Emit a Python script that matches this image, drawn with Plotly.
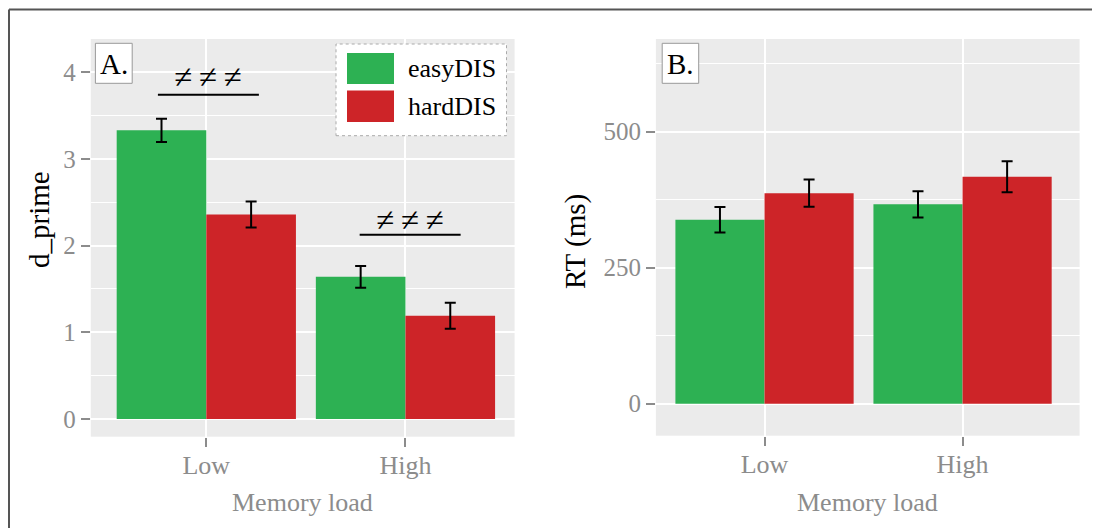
import plotly.graph_objects as go

# ---------------- data ----------------
load_levels = ["Low", "High"]
load_pos = [1, 2]
conditions = ["easyDIS", "hardDIS"]
colors = ["#2db153", "#cd2428"]

dprime_easy = [3.33, 1.64]
dprime_easy_err = [0.135, 0.125]
dprime_hard = [2.36, 1.19]
dprime_hard_err = [0.15, 0.15]

rt_easy = [338, 366.5]
rt_easy_err = [23.5, 24]
rt_hard = [387, 417]
rt_hard_err = [25, 28.5]

dprime_ticks = [0, 1, 2, 3, 4]
rt_ticks = [0, 250, 500]

# significance markers on panel A: (x0, x1, line y, text y)
sig_marks = [(0.757, 1.264, 3.74, 3.94), (1.77, 2.277, 2.125, 2.30)]
sig_text = "≠\u2009≠\u2009≠"

# the page body adds an 8 px margin, so the figure is drawn 8 px in from the corner
OFF = 8
W, H = 1100 - OFF, 528 - OFF
FONT = "Liberation Serif"
GREY = "#8c8c8c"


def px(x):
    return (x - OFF) / W


def py(y):
    return 1 - (y - OFF) / H


fig = go.Figure()

panels = [
    ("x", "y", [dprime_easy, dprime_hard], [dprime_easy_err, dprime_hard_err]),
    ("x2", "y2", [rt_easy, rt_hard], [rt_easy_err, rt_hard_err]),
]
for xa, ya, vals, errs in panels:
    for i, cond in enumerate(conditions):
        fig.add_trace(go.Bar(
            x=load_pos, y=vals[i], name=cond, xaxis=xa, yaxis=ya,
            offsetgroup=str(i), marker=dict(color=colors[i], line=dict(width=0)),
            error_y=dict(type="data", array=errs[i], color="black", thickness=2, width=5.5),
            showlegend=False,
        ))

axis_common = dict(
    showgrid=True, gridcolor="white", gridwidth=1.6, zeroline=False,
    ticks="outside", ticklen=9, tickwidth=1.5, tickcolor="#8c8c8c", showline=False,
)
xtick = dict(tickfont=dict(family=FONT, size=26, color=GREY), ticklabelstandoff=-4)
ytick = dict(tickfont=dict(family=FONT, size=25, color=GREY))

fig.update_layout(
    width=W, height=H, margin=dict(l=0, r=0, t=0, b=0),
    paper_bgcolor="white", plot_bgcolor="#ebebeb",
    barmode="group", bargap=0.1, bargroupgap=0,
    xaxis=dict(domain=[px(90.8), px(514.6)], range=[0.42, 2.548], anchor="y",
               tickvals=load_pos, ticktext=load_levels, **axis_common, **xtick),
    yaxis=dict(domain=[py(436.7), py(39)], range=[-0.204, 4.384], anchor="x",
               tickvals=dprime_ticks,
               minor=dict(dtick=0.5, tick0=0, showgrid=True, gridcolor="white", gridwidth=0.8, ticks=""),
               **axis_common, **ytick),
    xaxis2=dict(domain=[px(655.9), px(1079.6)], range=[0.4515, 2.591], anchor="y2",
                tickvals=load_pos, ticktext=load_levels, **axis_common, **xtick),
    yaxis2=dict(domain=[py(435.7), py(39)], range=[-58.8, 670.4], anchor="x2",
                tickvals=rt_ticks,
                minor=dict(dtick=125, tick0=0, showgrid=True, gridcolor="white", gridwidth=0.8, ticks=""),
                **axis_common, **ytick),
)

shapes = []
annotations = []

# outer frame (left and top)
shapes.append(dict(type="line", xref="paper", yref="paper", x0=px(9), x1=px(9), y0=0, y1=py(9.5),
                   line=dict(color="#555555", width=2)))
shapes.append(dict(type="line", xref="paper", yref="paper", x0=px(9), x1=1, y0=py(9.5), y1=py(9.5),
                   line=dict(color="#555555", width=2)))

# panel labels
for label, (x0, x1, y0, y1) in [("A.", (95.4, 132.2, 43.3, 83.3)), ("B.", (662.2, 698.7, 43.3, 83.3))]:
    shapes.append(dict(type="rect", xref="paper", yref="paper", x0=px(x0), x1=px(x1), y0=py(y1), y1=py(y0),
                       fillcolor="white", line=dict(color="#999999", width=1)))
    annotations.append(dict(xref="paper", yref="paper", x=px((x0 + x1) / 2), y=py((y0 + y1) / 2 + 1),
                            text=label, showarrow=False, xanchor="center", yanchor="middle",
                            font=dict(family=FONT, size=29, color="black")))

# significance markers
for x0, x1, yl, yt in sig_marks:
    shapes.append(dict(type="line", xref="x", yref="y", x0=x0, x1=x1, y0=yl, y1=yl,
                       line=dict(color="black", width=2)))
    annotations.append(dict(xref="x", yref="y", x=(x0 + x1) / 2, y=yt, text=sig_text, showarrow=False,
                            xanchor="center", yanchor="middle",
                            font=dict(family=FONT, size=33, color="black")))

# custom legend
shapes.append(dict(type="rect", xref="paper", yref="paper", x0=px(336), x1=px(506.5), y0=py(135.7), y1=py(44),
                   fillcolor="white", line=dict(color="#aaaaaa", width=1, dash="dot")))
key_rows = [(53, 84), (90.5, 122)]
for i, cond in enumerate(conditions):
    y0, y1 = key_rows[i]
    shapes.append(dict(type="rect", xref="paper", yref="paper", x0=px(347), x1=px(394), y0=py(y1), y1=py(y0),
                       fillcolor=colors[i], line=dict(width=0)))
    annotations.append(dict(xref="paper", yref="paper", x=px(406), y=py((y0 + y1) / 2), text=cond,
                            showarrow=False, xanchor="left", yanchor="middle",
                            font=dict(family=FONT, size=26, color="black")))

# axis titles
annotations.append(dict(xref="paper", yref="paper", x=px(39), y=py(220), text="d_prime", textangle=-90,
                        showarrow=False, xanchor="center", yanchor="middle",
                        font=dict(family=FONT, size=29, color="black")))
annotations.append(dict(xref="paper", yref="paper", x=px(576), y=py(242), text="RT (ms)", textangle=-90,
                        showarrow=False, xanchor="center", yanchor="middle",
                        font=dict(family=FONT, size=29, color="black")))
for xc in [302.7, 867.8]:
    annotations.append(dict(xref="paper", yref="paper", x=px(xc), y=py(502.3), text="Memory load",
                            showarrow=False, xanchor="center", yanchor="middle",
                            font=dict(family=FONT, size=26, color=GREY)))

fig.update_layout(shapes=shapes, annotations=annotations)
fig.write_html("out.html")
